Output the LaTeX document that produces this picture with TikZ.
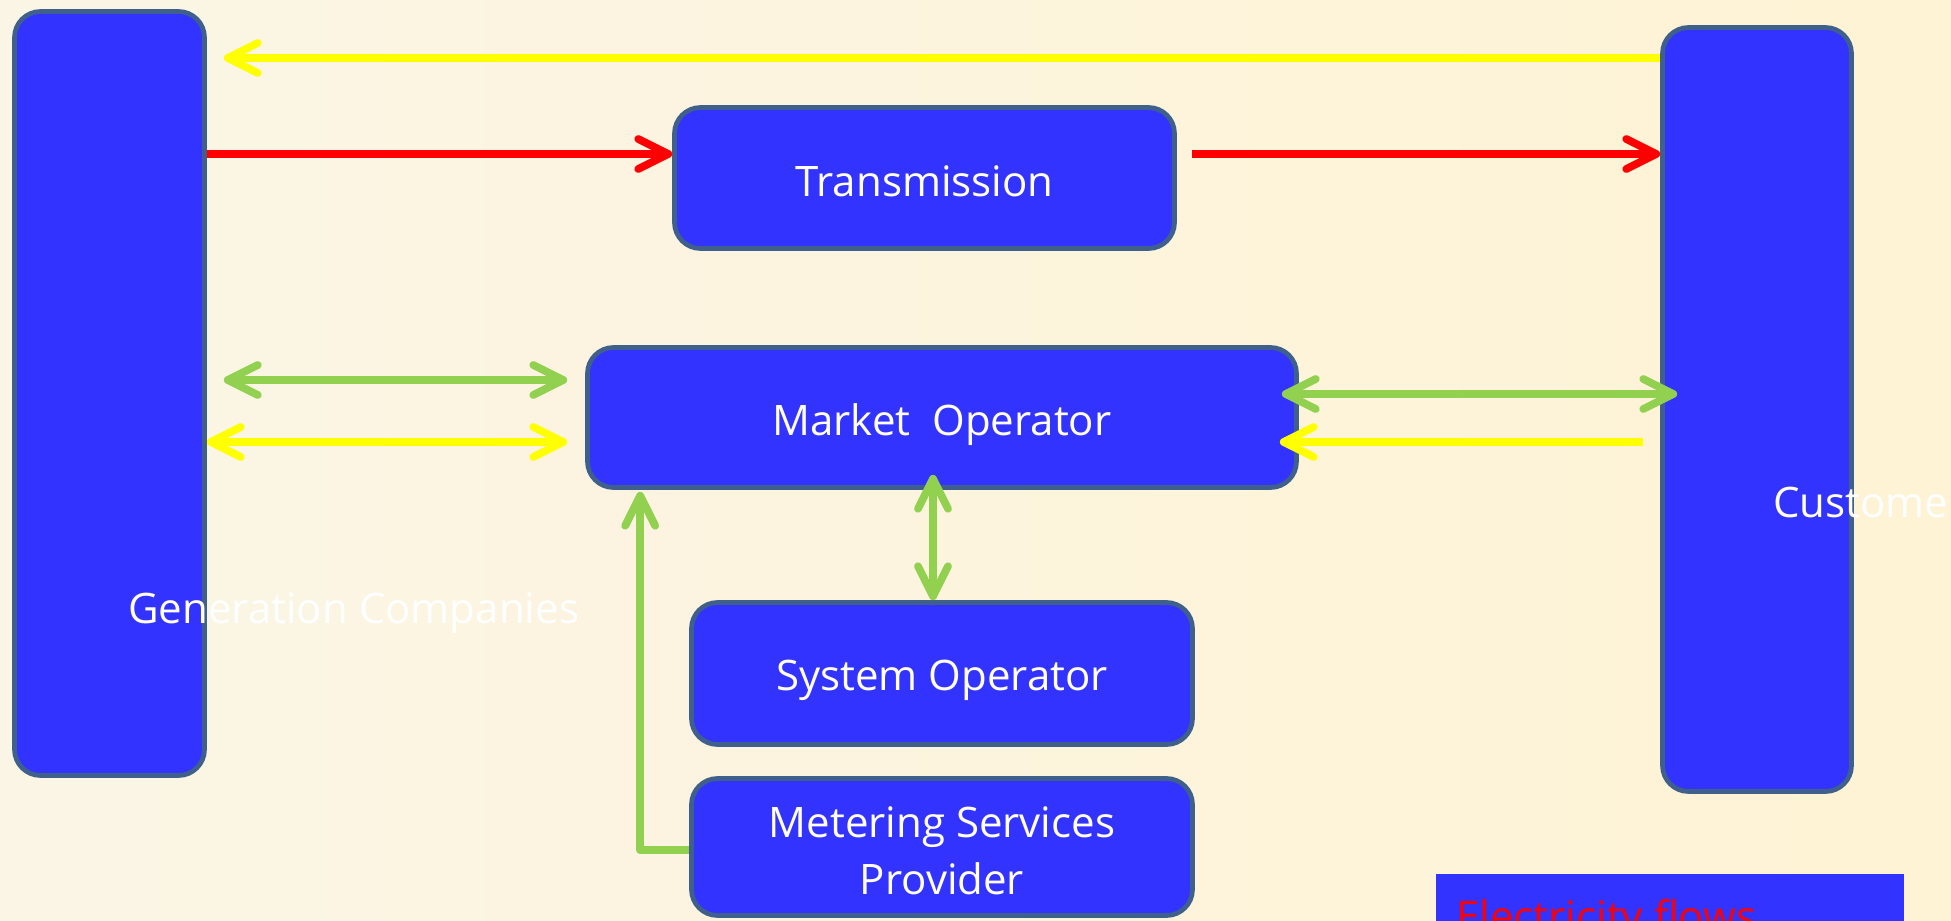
\documentclass[tikz,border=0pt]{standalone}
\usepackage{fontspec}
\setmainfont{Open Sans}
\usetikzlibrary{arrows.meta,calc}
\definecolor{boxblue}{RGB}{51,51,255}
\definecolor{bordc}{RGB}{64,96,140}
\definecolor{ylw}{RGB}{255,255,0}
\definecolor{rd}{RGB}{255,0,0}
\definecolor{grn}{RGB}{146,208,80}
\definecolor{bgA}{RGB}{251,245,230}
\definecolor{bgB}{RGB}{254,243,212}
\newcommand\dfont{\fontsize{21pt}{28.5pt}\selectfont}
\newcommand\lowr[2]{\raisebox{-#1}[\height][\depth]{#2}}
\begin{document}
\begin{tikzpicture}[x=0.5pt,y=-0.5pt,
  >={Straight Barb[length=15pt,width=15pt,round]},
  box/.style={draw=bordc, line width=2.35pt, fill=boxblue, rounded corners=13pt,
    inner sep=0pt, text=white, align=center, font=\dfont},
  lbl/.style={inner sep=0pt, font=\dfont, anchor=base west},
  flow/.style={line width=3.9pt},
  yflow/.style={flow, draw=ylw},
  rflow/.style={flow, draw=rd},
  gflow/.style={flow, draw=grn}]
\useasboundingbox (0,0) rectangle (1951,921);
\clip (0,0) rectangle (1951,921);
\shade[left color=bgA, right color=bgB] (0,0) rectangle (1951,921);

\node[box, minimum width=95pt, minimum height=382pt] (gen) at (109.5,393.5) {};
\node[box, minimum width=94.5pt, minimum height=382pt] (cust) at (1757,409.5) {};
\node[box, minimum width=250pt, minimum height=70.5pt] (trans) at (924.5,178) {\lowr{1.5pt}{Transmission}};
\node[box, minimum width=354.5pt, minimum height=70pt] (mo) at (942,417.5) {\lowr{3.5pt}{Market\ \ Operator}};
\node[box, minimum width=250.5pt, minimum height=71pt] (so) at (942,673.5) {\lowr{3.5pt}{System Operator}};
\node[box, minimum width=250.5pt, minimum height=68.5pt] (msp) at (942,847) {\lowr{2pt}{Metering Services}\\\lowr{2pt}{Provider}};
\node[fill=boxblue, minimum width=234pt, minimum height=60pt, inner sep=0pt, anchor=north west] (efb) at (1436,874) {};

\node[lbl, text=white] (gentxt) at (128,623) {Generation Companies};
\node[lbl, text=white] (custtxt) at (1773,517) {Customers};
\node[lbl, text=rd] (eftxt) at (1456,931) {Electricity flows};

\coordinate (ytop) at (0,58);
\coordinate (yred) at (0,154);
\coordinate (ygl) at (0,380);
\coordinate (ygr) at (0,394);
\coordinate (yyl) at (0,442);

\draw[yflow,->] (cust.west |- ytop) -- ($(gen.east |- ytop)+(17,0)$);
\draw[rflow,->] (gen.east |- yred) -- (trans.west |- yred);
\draw[rflow,->] ($(trans.east |- yred)+(15,0)$) -- (cust.west |- yred);
\draw[gflow,<->] ($(gen.east |- ygl)+(17,0)$) -- ($(mo.west |- ygl)+(-18,0)$);
\draw[yflow,<->] (gen.east |- yyl) -- ($(mo.west |- yyl)+(-18,0)$);
\draw[gflow,<->] ($(mo.east |- ygr)+(-17,0)$) -- ($(cust.west |- ygr)+(17,0)$);
\draw[yflow,->] ($(cust.west |- yyl)+(-17,0)$) -- ($(mo.east |- yyl)+(-19,0)$);
\draw[gflow,<->] ($(so.north)+(-9,0)$) -- ($(mo.south)+(-9,-15)$);
\draw[gflow,->,line join=round] ($(msp.west)+(0,3)$) -| ($(mo.south west)+(55,2)$);
\end{tikzpicture}
\end{document}
